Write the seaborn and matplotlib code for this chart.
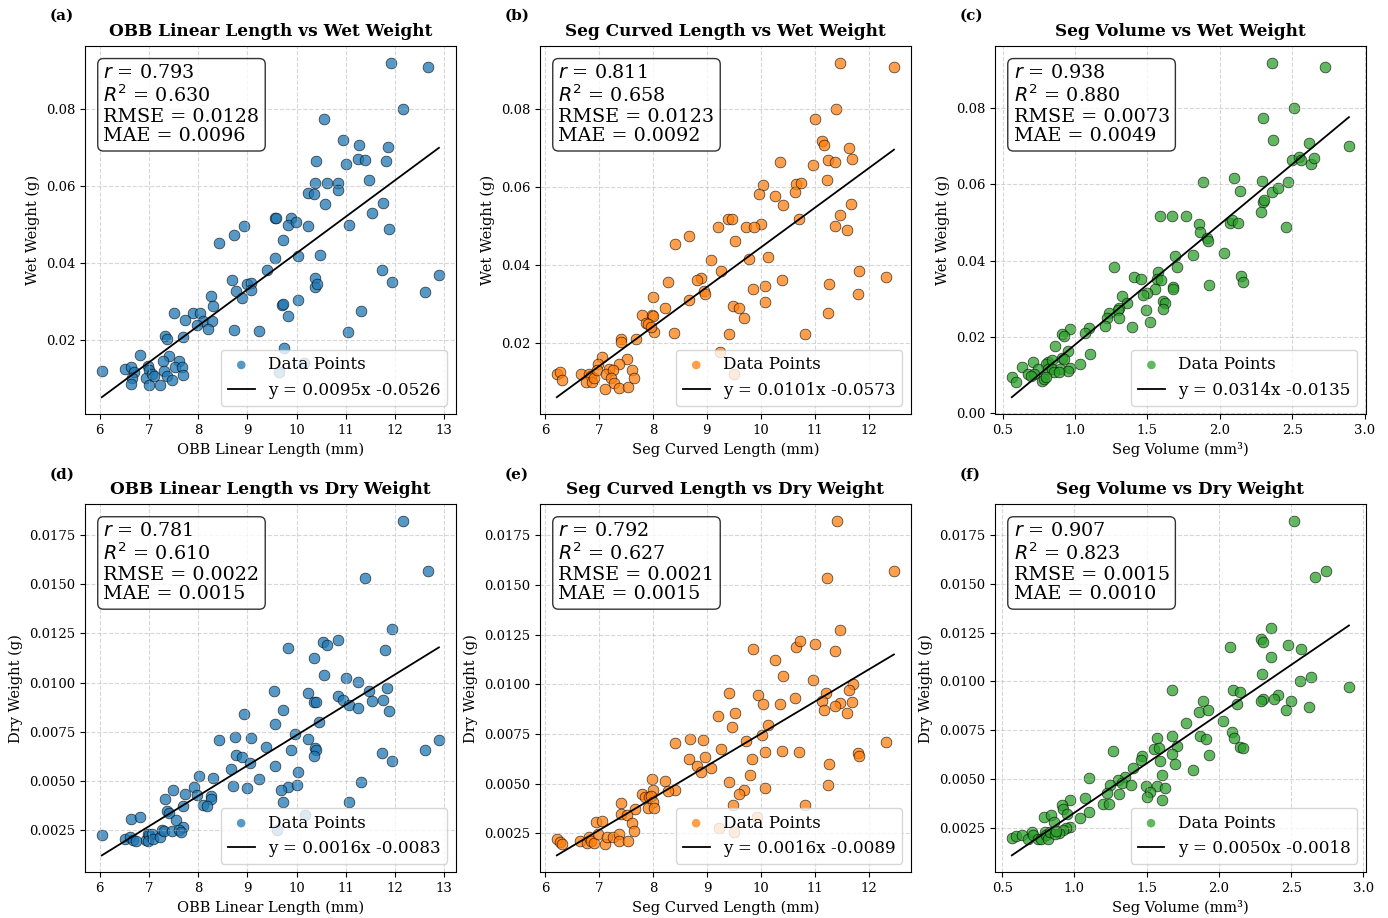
import numpy as np
import matplotlib
matplotlib.use('Agg')
import matplotlib.pyplot as plt
import seaborn as sns

plt.rcParams['font.family'] = 'serif'
plt.rcParams['font.serif'] = ['DejaVu Serif']

# (a) OBB linear length vs wet weight
obb_x_wet = [11.92, 12.67, 12.17, 10.55, 10.94, 11.26, 11.85, 10.40, 11.01, 11.24,
             11.39, 11.81, 11.47, 10.38, 10.61, 10.84, 10.84, 10.22, 10.36, 10.57,
             11.75, 11.53, 9.55, 9.58, 9.89, 9.82, 9.98, 10.22, 11.06, 11.88,
             8.93, 8.73, 8.42, 9.72, 9.56, 10.02, 10.48, 9.39, 11.73, 12.89,
             10.37, 11.94, 8.68, 9.00, 9.07, 9.07, 8.77, 10.37, 10.41, 12.61,
             8.25, 8.29, 8.88, 10.02, 9.70, 9.72, 9.83, 11.31, 7.50, 7.90,
             8.03, 7.74, 8.09, 8.27, 7.97, 8.19, 8.72, 9.24, 11.05, 7.33,
             7.36, 7.70, 9.74, 6.81, 7.40, 7.28, 7.61, 6.04, 6.51, 6.64,
             6.69, 6.98, 7.00, 7.30, 7.53, 7.66, 6.66, 6.63, 6.94, 7.00,
             7.05, 7.10, 7.36, 7.47, 7.23, 7.68, 9.64, 10.15]
wet_y_obb = [0.0921, 0.0909, 0.0800, 0.0774, 0.0719, 0.0708, 0.0702, 0.0664, 0.0657, 0.0671,
             0.0669, 0.0664, 0.0617, 0.0607, 0.0608, 0.0609, 0.0589, 0.0583, 0.0579, 0.0553,
             0.0557, 0.0529, 0.0517, 0.0517, 0.0517, 0.0498, 0.0506, 0.0496, 0.0498, 0.0489,
             0.0497, 0.0474, 0.0453, 0.0461, 0.0413, 0.0417, 0.0420, 0.0381, 0.0383, 0.0368,
             0.0361, 0.0350, 0.0355, 0.0346, 0.0349, 0.0331, 0.0326, 0.0337, 0.0345, 0.0325,
             0.0315, 0.0289, 0.0308, 0.0305, 0.0290, 0.0294, 0.0261, 0.0276, 0.0270, 0.0269,
             0.0271, 0.0251, 0.0249, 0.0249, 0.0239, 0.0228, 0.0225, 0.0223, 0.0221, 0.0210,
             0.0202, 0.0207, 0.0178, 0.0162, 0.0157, 0.0146, 0.0146, 0.0118, 0.0124, 0.0129,
             0.0117, 0.0131, 0.0122, 0.0120, 0.0129, 0.0130, 0.0102, 0.0086, 0.0100, 0.0084,
             0.0111, 0.0106, 0.0106, 0.0095, 0.0084, 0.0110, 0.0117, 0.0139]

# (b) Seg curved length vs wet weight
seg_x_wet = [11.47, 12.47, 11.40, 11.00, 11.13, 11.18, 11.63, 10.36, 10.97, 11.24,
             11.38, 11.70, 11.22, 10.04, 9.96, 10.26, 10.65, 10.74, 10.63, 10.41,
             11.68, 11.47, 9.40, 9.46, 10.01, 10.71, 9.73, 9.87, 11.37, 11.60,
             9.20, 8.68, 8.41, 9.52, 9.07, 9.79, 10.13, 9.27, 11.82, 12.33,
             10.40, 11.80, 8.28, 8.89, 8.82, 8.94, 8.97, 9.85, 10.08, 11.26,
             8.01, 8.23, 8.68, 10.08, 9.49, 9.60, 9.69, 11.24, 7.80, 7.99,
             8.00, 7.88, 7.91, 8.40, 8.02, 7.96, 9.41, 10.83, 7.41, 7.41,
             7.68, 9.25, 7.06, 7.52, 7.37, 6.98, 6.22, 6.27, 6.32, 6.66,
             6.82, 6.86, 6.77, 6.87, 6.91, 6.97, 7.19, 7.14, 7.27, 7.23,
             7.28, 7.12, 7.37, 7.54, 7.62, 7.66, 9.51]
wet_y_seg = [0.0919, 0.0907, 0.0800, 0.0773, 0.0719, 0.0708, 0.0701, 0.0663, 0.0656, 0.0669,
             0.0663, 0.0671, 0.0617, 0.0606, 0.0582, 0.0577, 0.0608, 0.0609, 0.0587, 0.0553,
             0.0557, 0.0528, 0.0517, 0.0518, 0.0505, 0.0517, 0.0496, 0.0498, 0.0499, 0.0489,
             0.0497, 0.0474, 0.0453, 0.0461, 0.0413, 0.0416, 0.0419, 0.0383, 0.0383, 0.0369,
             0.0361, 0.0324, 0.0355, 0.0367, 0.0360, 0.0333, 0.0326, 0.0337, 0.0345, 0.0350,
             0.0316, 0.0290, 0.0309, 0.0305, 0.0294, 0.0289, 0.0262, 0.0277, 0.0270, 0.0271,
             0.0269, 0.0251, 0.0247, 0.0226, 0.0227, 0.0240, 0.0223, 0.0222, 0.0210, 0.0202,
             0.0210, 0.0177, 0.0163, 0.0157, 0.0146, 0.0146, 0.0120, 0.0124, 0.0103, 0.0120,
             0.0120, 0.0115, 0.0098, 0.0100, 0.0110, 0.0129, 0.0133, 0.0120, 0.0129, 0.0110,
             0.0096, 0.0082, 0.0084, 0.0086, 0.0129, 0.0110, 0.0120]

# (c) Seg volume vs wet weight
vol_x_wet = [2.359, 2.729, 2.515, 2.299, 2.370, 2.619, 2.892, 2.497, 2.550, 2.561,
             2.630, 2.651, 2.096, 2.290, 2.469, 1.885, 2.143, 2.359, 2.400, 2.297,
             2.306, 2.285, 2.458, 1.588, 1.673, 1.770, 1.855, 1.864, 2.071, 2.087,
             2.126, 1.915, 1.922, 1.692, 1.818, 2.027, 1.268, 1.708, 2.145, 2.161,
             1.929, 1.406, 1.459, 1.572, 1.565, 1.593, 1.676, 1.676, 1.551, 1.498,
             1.473, 1.326, 1.358, 1.609, 1.620, 1.607, 1.494, 1.519, 1.395, 1.307,
             1.298, 1.305, 1.238, 1.220, 1.206, 1.096, 1.071, 0.969, 0.912, 0.921,
             0.863, 1.103, 0.951, 0.909, 0.926, 1.038, 0.709, 0.633, 0.813, 0.799,
             0.840, 0.748, 0.813, 0.840, 0.898, 0.967, 0.951, 0.564, 0.592, 0.675,
             0.714, 0.698, 0.852, 0.771, 0.785, 0.801, 0.891]
wet_y_vol = [0.0920, 0.0908, 0.0801, 0.0774, 0.0718, 0.0708, 0.0702, 0.0663, 0.0671, 0.0665,
             0.0655, 0.0669, 0.0617, 0.0609, 0.0607, 0.0606, 0.0582, 0.0579, 0.0590, 0.0555,
             0.0558, 0.0528, 0.0488, 0.0517, 0.0517, 0.0517, 0.0497, 0.0474, 0.0499, 0.0506,
             0.0498, 0.0459, 0.0452, 0.0413, 0.0415, 0.0419, 0.0383, 0.0382, 0.0359, 0.0344,
             0.0336, 0.0356, 0.0351, 0.0369, 0.0353, 0.0350, 0.0332, 0.0326, 0.0325, 0.0314,
             0.0310, 0.0306, 0.0288, 0.0295, 0.0289, 0.0272, 0.0270, 0.0238, 0.0226, 0.0275,
             0.0269, 0.0250, 0.0262, 0.0250, 0.0228, 0.0223, 0.0211, 0.0221, 0.0208, 0.0202,
             0.0177, 0.0156, 0.0162, 0.0145, 0.0142, 0.0129, 0.0134, 0.0120, 0.0134, 0.0129,
             0.0138, 0.0116, 0.0115, 0.0115, 0.0115, 0.0118, 0.0110, 0.0095, 0.0082, 0.0102,
             0.0101, 0.0097, 0.0108, 0.0083, 0.0089, 0.0095, 0.0108]

# (d) OBB linear length vs dry weight
obb_x_dry = [12.16, 12.67, 11.38, 11.93, 10.53, 10.61, 10.83, 9.82, 11.80, 10.35,
             10.56, 11.00, 11.24, 9.53, 10.22, 11.46, 11.84, 10.83, 10.95, 11.06,
             10.35, 10.39, 11.53, 11.75, 11.25, 11.87, 8.93, 9.72, 10.46, 9.55,
             9.97, 8.42, 8.74, 9.07, 10.22, 12.89, 9.38, 9.88, 10.37, 10.40,
             10.35, 11.74, 12.60, 8.77, 8.88, 11.94, 9.05, 8.66, 9.55, 10.03,
             8.02, 8.29, 9.23, 11.31, 8.71, 8.99, 9.82, 10.01, 9.68, 7.91,
             7.49, 7.74, 7.98, 8.25, 8.25, 8.10, 8.18, 7.68, 9.72, 11.06,
             7.32, 7.36, 7.40, 10.16, 7.55, 6.63, 6.81, 7.68, 6.04, 6.51,
             6.62, 6.68, 6.73, 6.94, 6.97, 7.00, 7.05, 6.98, 7.08, 7.23,
             7.27, 7.31, 7.46, 7.61, 7.64, 9.61]
dry_y_obb = [0.01823, 0.01568, 0.01534, 0.01273, 0.01205, 0.01191, 0.01219, 0.01176, 0.01168, 0.01125,
             0.01040, 0.01021, 0.01001, 0.00958, 0.00946, 0.00956, 0.00970, 0.00931, 0.00912, 0.00887,
             0.00902, 0.00902, 0.00905, 0.00909, 0.00870, 0.00856, 0.00842, 0.00858, 0.00798, 0.00790,
             0.00740, 0.00706, 0.00723, 0.00720, 0.00713, 0.00709, 0.00672, 0.00658, 0.00667, 0.00658,
             0.00624, 0.00641, 0.00655, 0.00633, 0.00621, 0.00599, 0.00590, 0.00558, 0.00577, 0.00546,
             0.00524, 0.00512, 0.00507, 0.00493, 0.00471, 0.00464, 0.00468, 0.00481, 0.00452, 0.00468,
             0.00454, 0.00432, 0.00430, 0.00423, 0.00408, 0.00376, 0.00374, 0.00371, 0.00391, 0.00391,
             0.00405, 0.00348, 0.00335, 0.00328, 0.00302, 0.00306, 0.00314, 0.00263, 0.00222, 0.00206,
             0.00212, 0.00200, 0.00195, 0.00200, 0.00229, 0.00222, 0.00229, 0.00195, 0.00206, 0.00212,
             0.00248, 0.00243, 0.00243, 0.00249, 0.00238, 0.00251]

# (e) Seg curved length vs dry weight
seg_x_dry = [11.40, 12.46, 11.23, 11.47, 10.64, 10.73, 11.00, 9.86, 11.37, 10.25,
             10.40, 10.96, 11.70, 9.40, 9.95, 11.21, 11.62, 10.63, 10.04, 10.35,
             11.13, 11.47, 11.68, 11.17, 11.37, 11.60, 9.20, 9.51, 10.12, 9.46,
             10.01, 8.41, 8.68, 8.92, 9.73, 12.31, 9.26, 10.07, 10.38, 10.71,
             11.79, 11.81, 8.67, 8.97, 9.84, 11.26, 8.82, 9.07, 8.88, 9.79,
             7.99, 8.23, 9.40, 11.24, 8.00, 8.40, 8.28, 10.07, 9.68, 9.59,
             7.79, 7.86, 7.93, 7.96, 8.00, 7.90, 8.02, 7.67, 9.49, 10.82,
             7.40, 7.41, 7.52, 9.92, 7.61, 6.94, 7.06, 7.65, 6.22, 6.27,
             6.31, 6.65, 6.77, 6.82, 6.86, 6.90, 6.98, 7.11, 7.15, 7.26,
             7.37, 7.37, 7.53, 9.23, 9.50]
dry_y_seg = [0.01822, 0.01568, 0.01534, 0.01275, 0.01189, 0.01217, 0.01204, 0.01175, 0.01168, 0.01124,
             0.01040, 0.01020, 0.01001, 0.00958, 0.00946, 0.00958, 0.00969, 0.00932, 0.00902, 0.00900,
             0.00914, 0.00904, 0.00910, 0.00872, 0.00888, 0.00853, 0.00841, 0.00856, 0.00796, 0.00787,
             0.00742, 0.00706, 0.00723, 0.00720, 0.00715, 0.00710, 0.00673, 0.00659, 0.00666, 0.00659,
             0.00656, 0.00641, 0.00622, 0.00634, 0.00625, 0.00598, 0.00590, 0.00578, 0.00558, 0.00544,
             0.00524, 0.00511, 0.00506, 0.00492, 0.00467, 0.00467, 0.00464, 0.00480, 0.00467, 0.00450,
             0.00450, 0.00435, 0.00432, 0.00438, 0.00406, 0.00378, 0.00378, 0.00373, 0.00393, 0.00393,
             0.00403, 0.00346, 0.00344, 0.00330, 0.00302, 0.00306, 0.00314, 0.00263, 0.00221, 0.00208,
             0.00198, 0.00212, 0.00199, 0.00229, 0.00211, 0.00202, 0.00244, 0.00198, 0.00231, 0.00233,
             0.00248, 0.00211, 0.00211, 0.00275, 0.00258]

# (f) Seg volume vs dry weight
vol_x_dry = [2.523, 2.738, 2.662, 2.364, 2.294, 2.304, 2.080, 2.477, 2.567, 2.364,
             2.297, 2.636, 2.558, 1.676, 2.098, 2.149, 2.410, 2.306, 2.290, 2.378,
             2.502, 2.128, 2.463, 2.625, 1.890, 1.860, 1.925, 2.900, 1.775, 2.029,
             2.094, 2.103, 1.676, 1.574, 1.866, 1.912, 1.711, 1.548, 1.588, 2.149,
             2.167, 1.930, 1.269, 1.468, 1.676, 1.458, 1.592, 1.699, 1.408, 1.823,
             1.100, 1.609, 1.348, 1.301, 1.327, 1.394, 1.246, 1.495, 1.569, 1.625,
             1.523, 1.227, 1.306, 1.500, 1.606, 1.200, 1.239, 1.070, 0.967, 0.911,
             0.920, 0.948, 1.100, 1.038, 0.793, 0.839, 0.858, 0.967, 0.939, 0.920,
             0.567, 0.595, 0.636, 0.678, 0.706, 0.712, 0.747, 0.770, 0.798, 0.805,
             0.816, 0.830, 0.893, 0.863, 0.874]
dry_y_vol = [0.01821, 0.01566, 0.01532, 0.01272, 0.01215, 0.01201, 0.01175, 0.01187, 0.01167, 0.01124,
             0.01039, 0.01021, 0.01000, 0.00958, 0.00958, 0.00946, 0.00932, 0.00910, 0.00902, 0.00912,
             0.00900, 0.00886, 0.00854, 0.00871, 0.00902, 0.00842, 0.00856, 0.00970, 0.00788, 0.00796,
             0.00742, 0.00713, 0.00720, 0.00710, 0.00722, 0.00706, 0.00672, 0.00655, 0.00659, 0.00667,
             0.00659, 0.00625, 0.00642, 0.00621, 0.00631, 0.00599, 0.00591, 0.00579, 0.00558, 0.00546,
             0.00507, 0.00523, 0.00512, 0.00494, 0.00482, 0.00472, 0.00469, 0.00465, 0.00465, 0.00453,
             0.00434, 0.00431, 0.00422, 0.00409, 0.00393, 0.00375, 0.00375, 0.00405, 0.00392, 0.00368,
             0.00349, 0.00320, 0.00332, 0.00302, 0.00307, 0.00318, 0.00281, 0.00257, 0.00249, 0.00240,
             0.00198, 0.00210, 0.00213, 0.00196, 0.00230, 0.00215, 0.00196, 0.00196, 0.00229, 0.00213,
             0.00196, 0.00229, 0.00224, 0.00220, 0.00237]

titles = ['OBB Linear Length vs Wet Weight', 'Seg Curved Length vs Wet Weight', 'Seg Volume vs Wet Weight',
          'OBB Linear Length vs Dry Weight', 'Seg Curved Length vs Dry Weight', 'Seg Volume vs Dry Weight']
xlabels = ['OBB Linear Length (mm)', 'Seg Curved Length (mm)', 'Seg Volume (mm³)'] * 2
ylabels = ['Wet Weight (g)'] * 3 + ['Dry Weight (g)'] * 3
letters = ['(a)', '(b)', '(c)', '(d)', '(e)', '(f)']
colors = ['#1f77b4', '#ff7f0e', '#2ca02c'] * 2

r_vals = ['0.793', '0.811', '0.938', '0.781', '0.792', '0.907']
r2_vals = ['0.630', '0.658', '0.880', '0.610', '0.627', '0.823']
rmse_vals = ['0.0128', '0.0123', '0.0073', '0.0022', '0.0021', '0.0015']
mae_vals = ['0.0096', '0.0092', '0.0049', '0.0015', '0.0015', '0.0010']
fit_labels = ['y = 0.0095x -0.0526', 'y = 0.0101x -0.0573', 'y = 0.0314x -0.0135',
              'y = 0.0016x -0.0083', 'y = 0.0016x -0.0089', 'y = 0.0050x -0.0018']

xs_all = [obb_x_wet, seg_x_wet, vol_x_wet, obb_x_dry, seg_x_dry, vol_x_dry]
ys_all = [wet_y_obb, wet_y_seg, wet_y_vol, dry_y_obb, dry_y_seg, dry_y_vol]

fig, axes = plt.subplots(2, 3, figsize=(13.88, 9.18), dpi=100)
plt.subplots_adjust(left=0.0612, right=0.984, top=0.950, bottom=0.050, wspace=0.227, hspace=0.245)

for i, ax in enumerate(axes.flat):
    x = np.array(xs_all[i])
    y = np.array(ys_all[i])
    sns.scatterplot(x=x, y=y, ax=ax, color=colors[i], s=60, alpha=0.75,
                    edgecolor='black', linewidth=0.5, label='Data Points')
    # regression line
    m, b = np.polyfit(x, y, 1)
    xx = np.linspace(x.min(), x.max(), 100)
    ax.plot(xx, m * xx + b, color='black', lw=1.3, label=fit_labels[i])

    ax.set_title(titles[i], fontsize=12.2, fontweight='bold', pad=7)
    ax.set_xlabel(xlabels[i], fontsize=10.5)
    ax.set_ylabel(ylabels[i], fontsize=10.5)
    ax.tick_params(labelsize=9.5)
    ax.grid(True, linestyle='--', alpha=0.5)

    stats = (f'$r$ = {r_vals[i]}\n$R^2$ = {r2_vals[i]}\n'
             f'RMSE = {rmse_vals[i]}\nMAE = {mae_vals[i]}')
    ax.text(0.05, 0.95, stats, transform=ax.transAxes, fontsize=13.8, va='top',
            linespacing=1.12,
            bbox=dict(boxstyle='round', facecolor='white', alpha=0.8))
    leg = ax.legend(loc='lower right', fontsize=12.1, handlelength=1.6, markerscale=0.8)
    for h in leg.legend_handles:
        if hasattr(h, 'set_edgecolor') and h.get_label() == 'Data Points':
            h.set_edgecolor('none')
    ax.text(-0.095, 1.07, letters[i], transform=ax.transAxes, fontsize=11, fontweight='bold')

fig.savefig('out.png', dpi=100)
